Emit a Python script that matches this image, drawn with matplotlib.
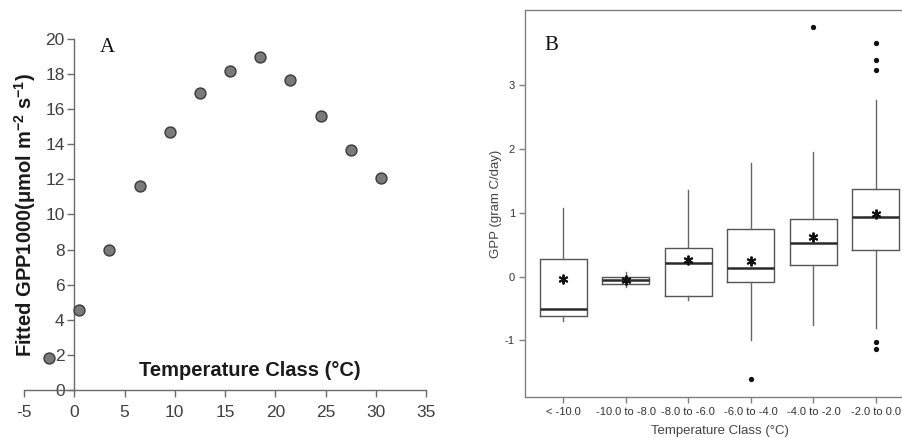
"""Temperature response of GPP: fitted GPP1000 (A) and GPP by cold temperature class (B)."""

import matplotlib

matplotlib.use("Agg")
import matplotlib.pyplot as plt

plt.rcParams["font.family"] = ["Liberation Sans", "DejaVu Sans"]
plt.rcParams["mathtext.fontset"] = "custom"
plt.rcParams["mathtext.rm"] = "Liberation Sans"
plt.rcParams["mathtext.bf"] = "Liberation Sans:bold"
plt.rcParams["axes.unicode_minus"] = False

# panel A: fitted GPP1000 per temperature class
temp_class = [-2.5, 0.5, 3.5, 6.5, 9.5, 12.5, 15.5, 18.5, 21.5, 24.5, 27.5, 30.5]
gpp1000 = [1.82, 4.55, 7.98, 11.62, 14.72, 16.92, 18.15, 18.98, 17.68, 15.63, 13.66, 12.08]

# panel B: box statistics per cold temperature class
class_labels = ["< -10.0", "-10.0 to -8.0", "-8.0 to -6.0", "-6.0 to -4.0", "-4.0 to -2.0", "-2.0 to 0.0"]
whisker_lo = [-0.70, -0.17, -0.37, -0.99, -0.76, -0.81]
q1 = [-0.61, -0.12, -0.30, -0.09, 0.18, 0.42]
medians = [-0.51, -0.06, 0.21, 0.14, 0.52, 0.93]
q3 = [0.27, 0.00, 0.44, 0.75, 0.90, 1.37]
whisker_hi = [1.07, 0.07, 1.35, 1.77, 1.95, 2.77]
means = [-0.04, -0.06, 0.26, 0.245, 0.62, 0.98]
outliers = [[], [], [], [-1.60], [3.90], [3.66, 3.385, 3.24, -1.03, -1.14]]

fig = plt.figure(figsize=(9.03, 4.38), dpi=100)

# ---- panel A
ax_a = fig.add_axes([0.0266, 0.1096, 0.4452, 0.8014])
ax_a.scatter(temp_class, gpp1000, s=62, color="#7a7a7a", edgecolor="#3a3a3a",
             linewidth=1.0, zorder=5, clip_on=False)
ax_a.set_xlim(-5, 35)
ax_a.set_ylim(0, 20)
ax_a.set_xticks(range(-5, 36, 5))
ax_a.set_yticks(range(0, 21, 2))
ax_a.spines["left"].set_position(("data", 0))
ax_a.spines["bottom"].set_position(("data", 0))
for side in ("top", "right"):
    ax_a.spines[side].set_visible(False)
for side in ("left", "bottom"):
    ax_a.spines[side].set_color("#6a6a6a")
    ax_a.spines[side].set_linewidth(1.0)
ax_a.tick_params(axis="both", colors="#6a6a6a", labelcolor="#404040",
                 labelsize=12.5, length=5, width=1.0, direction="out")
ax_a.tick_params(axis="x", pad=6)
ax_a.tick_params(axis="y", pad=2)
ax_a.text(-4.9, 10.0, r"Fitted GPP1000(μmol m$^{\mathbf{-2}}$ s$^{\mathbf{-1}}$)",
          rotation=90, ha="center", va="center", fontsize=14.5,
          fontweight="bold", color="#1a1a1a")
ax_a.text(17.5, 1.1, "Temperature Class (°C)", ha="center", va="center",
          fontsize=14.5, fontweight="bold", color="#1a1a1a")
ax_a.text(3.3, 19.5, "A", family=["Liberation Serif"], fontsize=15,
          ha="center", va="center", color="#111111")

# ---- panel B
ax_b = fig.add_axes([0.5817, 0.0943, 0.4305, 0.8827])
positions = list(range(1, len(class_labels) + 1))
stats = []
for i, lab in enumerate(class_labels):
    stats.append({
        "label": lab,
        "whislo": whisker_lo[i],
        "q1": q1[i],
        "med": medians[i],
        "q3": q3[i],
        "whishi": whisker_hi[i],
        "fliers": outliers[i],
    })
ax_b.bxp(
    stats,
    positions=positions,
    widths=0.75,
    showcaps=False,
    boxprops={"color": "#555555", "linewidth": 1.0},
    whiskerprops={"color": "#666666", "linewidth": 1.0},
    medianprops={"color": "#2a2a2a", "linewidth": 1.8},
    flierprops={"marker": "o", "markersize": 2.8, "markerfacecolor": "#111111",
                "markeredgecolor": "#111111"},
)
ax_b.plot(positions, means, linestyle="none", marker=(6, 2, 0), markersize=7,
          color="#111111", markeredgewidth=1.4, zorder=6)
ax_b.set_xlim(0.39, 6.61)
ax_b.set_ylim(-1.88, 4.17)
ax_b.set_yticks([-1, 0, 1, 2, 3])
ax_b.set_xticks(positions)
ax_b.set_xticklabels(class_labels)
for side in ax_b.spines.values():
    side.set_color("#808080")
    side.set_linewidth(1.0)
ax_b.tick_params(axis="both", colors="#808080", labelcolor="#333333",
                 labelsize=8, length=4, width=1.0)
ax_b.set_ylabel("GPP (gram C/day)", fontsize=9.5, color="#444444", labelpad=2)
ax_b.set_xlabel("Temperature Class (°C)", fontsize=9.5, color="#444444", labelpad=6)
ax_b.text(0.80, 3.62, "B", family=["Liberation Serif"], fontsize=15,
          ha="center", va="center", color="#111111")

fig.savefig("out.png", dpi=100)
